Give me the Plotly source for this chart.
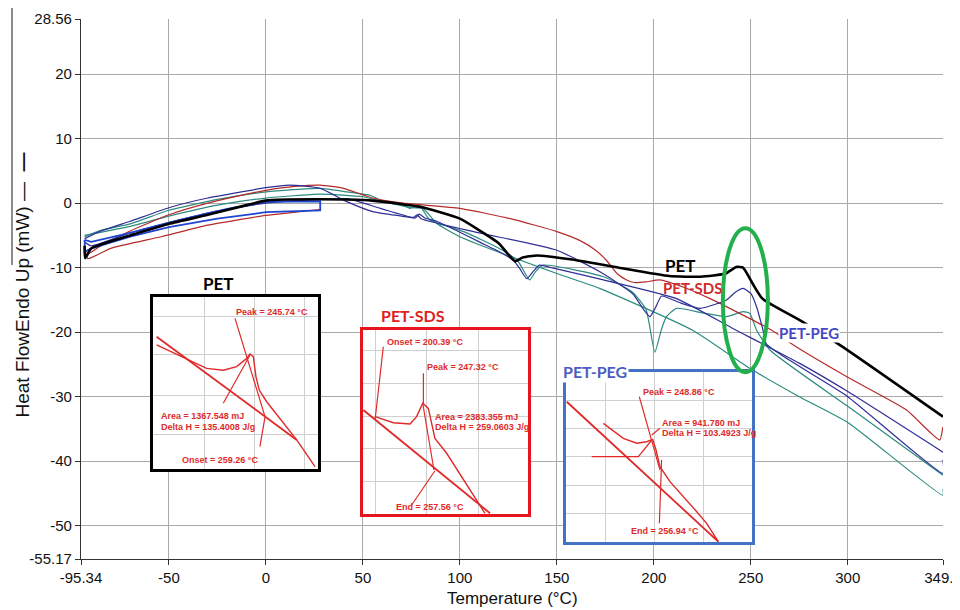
import plotly.graph_objects as go

# ---------------- axis ticks ----------------
X_TICKS = [-95.34, -50, 0, 50, 100, 150, 200, 250, 300, 349.1]
X_TICK_TEXT = ["-95.34", "-50", "0", "50", "100", "150", "200", "250", "300", "349.1"]
Y_TICKS = [-55.17, -50, -40, -30, -20, -10, 0, 10, 20, 28.56]
Y_TICK_TEXT = ["-55.17", "-50", "-40", "-30", "-20", "-10", "0", "10", "20", "28.56"]

# ---------------- main curves (Temperature °C, Heat flow mW) ----------------
PET_T = [-93.5, -93.2, -90, -80, -70, -50, -30, -10, 0, 25, 55, 80, 100, 110, 120, 126, 128.5, 132.5,
         140, 157, 182, 208, 224, 237, 242.5, 246, 251, 256, 275, 296, 349.1]
PET_Y = [-6.6, -8.5, -7.0, -5.9, -5.0, -3.2, -1.8, -0.3, 0.4, 0.6, 0.4, -0.6, -2.4, -4.2, -6.2, -8.3, -9.0, -8.4,
         -8.1, -8.7, -10.0, -11.3, -11.4, -10.9, -9.9, -10.0, -12.5, -14.8, -18.1, -22.0, -33.1]

SDS_T = [-93.3, -92.5, -85, -70, -50, -30, -10, 0, 15, 28, 40, 55, 71, 100, 126, 150, 162, 170, 176, 181,
         186, 190, 196, 203, 215, 229, 256, 265, 272, 300, 330, 347.4, 349]
SDS_Y = [-7.2, -8.0, -6.6, -4.3, -1.8, 0.0, 1.4, 2.0, 2.6, 2.8, 2.3, 0.8, 0.0, -0.8, -2.4, -4.4, -5.8, -7.3, -9.0, -10.9,
         -11.9, -12.3, -12.2, -11.9, -13.0, -14.8, -18.9, -20.5, -22.0, -27.0, -32.0, -36.7, -34.7]

SDS_LOW_T = [-93, -91.8, -80, -54, -30, 0, 28]
SDS_LOW_Y = [-7.6, -8.6, -7.0, -5.2, -3.4, -1.9, -1.0]

BLUE_LOOP_T = [-93.5, -93.3, -90, -70, -50, -25, 0, 15, 28, 28, 10, 0, -20, -50, -70, -90, -93.5]
BLUE_LOOP_Y = [-5.7, -7.5, -7.0, -5.2, -3.7, -2.4, -1.4, -1.2, -1.1, 0.3, 0.3, 0.2, -0.9, -3.0, -4.6, -6.0, -5.7]

NAVY_A_T = [-93.5, -85, -70, -50, -30, 0, 12, 28, 42, 55, 70, 77, 79, 82, 88, 100, 110, 122, 128, 131, 134.5,
            138, 141, 146, 174, 211.7, 240, 275, 300, 349.1]
NAVY_A_Y = [-5.5, -4.3, -2.8, -0.7, 0.8, 2.4, 2.8, 2.3, 0.2, -1.3, -2.0, -2.3, -1.7, -2.3, -2.8, -4.5, -6.0, -7.8,
            -9.0, -10.2, -11.7, -10.5, -9.6, -9.9, -11.9, -14.8, -19.3, -24.8, -29.2, -38.6]

NAVY_B_T = [-93.5, -90, -70, -50, -25, 0, 28, 42, 59, 76, 78, 80, 110, 150, 172, 189, 195, 198, 201, 204, 214,
            224, 237.5, 242, 246, 250, 253, 256.3, 258, 275, 300, 349.1, 349.1]
NAVY_B_Y = [-6.0, -6.6, -4.6, -3.0, -1.2, 0.0, 0.6, 0.7, -0.8, -2.2, -1.8, -2.4, -4.6, -7.3, -10.6, -14.0, -16.6,
            -17.6, -16.1, -14.4, -15.5, -16.3, -15.0, -13.8, -13.2, -14.0, -16.1, -19.7, -21.8, -25.3, -30.0,
            -41.9, -39.8]

TEAL_A_T = [-93.5, -85, -70, -50, -25, 0, 28, 42, 54, 59, 71, 74, 79, 84.5, 102, 122, 130, 136, 139, 143, 174,
            189, 196, 200.5, 204, 206.5, 211.7, 225, 237.5, 246, 249.5, 253, 260, 300, 349.1]
TEAL_A_Y = [-5.2, -4.2, -3.2, -1.1, 0.6, 1.75, 2.3, 1.75, 1.2, 0.5, -0.3, -0.8, -0.3, -2.6, -4.4, -7.3, -9.0,
            -11.9, -10.6, -9.6, -11.4, -13.8, -16.5, -23.1, -19.5, -17.6, -16.3, -17.0, -17.6, -16.8, -17.1,
            -19.7, -22.8, -31.5, -42.2]

TEAL_B_T = [-93.5, -70, -50, -25, 0, 28, 50, 64, 75, 81, 88, 100, 150, 172, 220, 249.5, 275, 300, 349.1, 349.1]
TEAL_B_Y = [-5.0, -3.6, -2.0, -0.3, 0.8, 1.4, 1.0, 0.0, -0.7, -0.8, -3.1, -5.2, -10.9, -13.2, -19.7, -25.6,
            -30.0, -34.0, -45.3, -44.3]

# ---------------- inset 1 (PET), local units 0..100 ----------------
PET_IN_GRID_U = [31.5, 61.8, 92.1]
PET_IN_GRID_V = [19.8, 43.0, 66.3, 88.4]
PET_IN_BASE_U = [2.2, 87.1]
PET_IN_BASE_V = [76.9, 16.9]
PET_IN_CURVE_U = [2.2, 22.4, 32.5, 42.6, 50.7, 56.8, 58.8, 60.8, 62.4, 64.4, 68.9, 87.1, 98.2]
PET_IN_CURVE_V = [72.1, 63.0, 58.5, 57.4, 59.5, 64.3, 66.9, 65.3, 53.7, 45.9, 39.1, 16.9, 1.4]
PET_IN_TAN_U = [49.7, 67.9, 64.8]
PET_IN_TAN_V = [87.6, 30.4, 13.0]
PET_IN_AREA_U = [42.6, 58.8]
PET_IN_AREA_V = [38.2, 66.3]

# ---------------- inset 2 (PET-SDS) ----------------
SDS_IN_GRID_U = [7.3, 38.6, 69.9]
SDS_IN_GRID_V = [17.6, 35.7, 52.9, 71.0, 89.1]
SDS_IN_BASE_U = [0.2, 77.0]
SDS_IN_BASE_V = [56.5, 0.4]
SDS_IN_CURVE_U = [7.3, 18.4, 28.5, 32.5, 36.2, 39.6, 41.6, 43.6, 50.7, 73.9]
SDS_IN_CURVE_V = [52.9, 49.6, 48.9, 52.9, 60.2, 57.4, 49.3, 41.1, 33.0, 0.4]
SDS_IN_ONSET_U = [12.3, 7.3]
SDS_IN_ONSET_V = [90.9, 51.1]
SDS_IN_PEAK_U = [36.6, 36.6]
SDS_IN_PEAK_V = [76.5, 60.2]
SDS_IN_TAN_U = [36.2, 43.0]
SDS_IN_TAN_V = [60.2, 23.9]
SDS_IN_END_U = [43.6, 29.5]
SDS_IN_END_V = [23.5, 4.9]

# ---------------- inset 3 (PET-PEG) ----------------
PEG_IN_GRID_U = [21.0, 47.8, 73.8]
PEG_IN_GRID_V = [16.9, 33.5, 50.2, 66.9, 83.5]
PEG_IN_BASE_U = [0.4, 81.9]
PEG_IN_BASE_V = [82.5, 0.2]
PEG_IN_CURVE_U = [20.1, 30.8, 38.0, 43.4, 46.6, 48.4, 50.5, 55.9, 70.3, 75.6, 81.9]
PEG_IN_CURVE_V = [69.8, 61.0, 58.1, 59.0, 60.4, 54.1, 44.3, 35.5, 17.8, 11.0, 0.2]
PEG_IN_TAN_U = [39.4, 50.5]
PEG_IN_TAN_V = [85.5, 42.4]
PEG_IN_END_U = [51.4, 50.2]
PEG_IN_END_V = [48.2, 11.0]
PEG_IN_ONSET_U = [13.8, 38.9, 46.1]
PEG_IN_ONSET_V = [50.2, 50.2, 60.0]
PEG_IN_AREA_U = [46.1, 50.5]
PEG_IN_AREA_V = [62.9, 66.9]

BLACK = "#000000"
RED = "#b52b2b"
NAVY = "#2e2f96"
BLUE = "#1f45d4"
TEAL = "#2b8b80"
INSET_RED = "#e02a2a"

fig = go.Figure()


def main_line(t, y, color, width, shape="spline"):
    fig.add_trace(go.Scatter(x=t, y=y, mode="lines",
                             line=dict(color=color, width=width, shape=shape, smoothing=0.5),
                             hoverinfo="skip", showlegend=False, xaxis="x", yaxis="y"))


main_line(TEAL_B_T, TEAL_B_Y, TEAL, 1.2)
main_line(TEAL_A_T, TEAL_A_Y, TEAL, 1.2)
main_line(SDS_LOW_T, SDS_LOW_Y, RED, 1.2)
main_line(SDS_T, SDS_Y, RED, 1.2)
main_line(NAVY_B_T, NAVY_B_Y, NAVY, 1.2)
main_line(NAVY_A_T, NAVY_A_Y, NAVY, 1.2)
main_line(BLUE_LOOP_T, BLUE_LOOP_Y, BLUE, 1.8, "linear")
main_line(PET_T, PET_Y, BLACK, 2.6)


def inset_line(u, v, ax, width=1.2):
    fig.add_trace(go.Scatter(x=u, y=v, mode="lines", line=dict(color=INSET_RED, width=width),
                             hoverinfo="skip", showlegend=False, xaxis="x" + ax, yaxis="y" + ax))


inset_line(PET_IN_BASE_U, PET_IN_BASE_V, "2", 1.8)
inset_line(PET_IN_CURVE_U, PET_IN_CURVE_V, "2", 1.4)
inset_line(PET_IN_TAN_U, PET_IN_TAN_V, "2")
inset_line(PET_IN_AREA_U, PET_IN_AREA_V, "2")

inset_line(SDS_IN_BASE_U, SDS_IN_BASE_V, "3", 1.8)
inset_line(SDS_IN_CURVE_U, SDS_IN_CURVE_V, "3", 1.4)
inset_line(SDS_IN_ONSET_U, SDS_IN_ONSET_V, "3")
inset_line(SDS_IN_PEAK_U, SDS_IN_PEAK_V, "3")
inset_line(SDS_IN_TAN_U, SDS_IN_TAN_V, "3")
inset_line(SDS_IN_END_U, SDS_IN_END_V, "3")

inset_line(PEG_IN_BASE_U, PEG_IN_BASE_V, "4", 1.8)
inset_line(PEG_IN_CURVE_U, PEG_IN_CURVE_V, "4", 1.4)
inset_line(PEG_IN_TAN_U, PEG_IN_TAN_V, "4")
inset_line(PEG_IN_END_U, PEG_IN_END_V, "4")
inset_line(PEG_IN_ONSET_U, PEG_IN_ONSET_V, "4")
inset_line(PEG_IN_AREA_U, PEG_IN_AREA_V, "4")

TICK_FONT = dict(family="Liberation Sans Narrow, Arial Narrow, Liberation Sans, Arial", size=15, color="#111111")
GRID = "#a9a9a9"


def inset_axes(domain_x, domain_y, grid_u, grid_v, border, n):
    common = dict(range=[0, 100], showticklabels=False, ticks="", showgrid=True, gridcolor="#cfcfcf",
                  gridwidth=1, zeroline=False, showline=True, linecolor=border, linewidth=3, mirror=True,
                  fixedrange=True, automargin=False)
    fig.layout["xaxis" + n] = dict(domain=domain_x, anchor="y" + n, tickvals=grid_u, **common)
    fig.layout["yaxis" + n] = dict(domain=domain_y, anchor="x" + n, tickvals=grid_v, **common)


# page body adds an 8px offset; figure is sized so the plot area lands on the reference pixels
OFF = 8
W, H = 960 - OFF, 610 - OFF
PL, PT, PR, PB = 81, 19, 943, 559          # plot area in screen pixels
L, T, R, B = PL - OFF, PT - OFF, W + OFF - PR, H + OFF - PB
PW, PH = PR - PL, PB - PT


def px(xp):
    return (xp - PL) / PW


def py(yp):
    return (PB - yp) / PH


fig.update_layout(
    width=W, height=H,
    margin=dict(l=L, r=R, t=T, b=B, autoexpand=False),
    paper_bgcolor="white", plot_bgcolor="white",
    showlegend=False,
    xaxis=dict(range=[-95.34, 349.1], tickvals=X_TICKS, ticktext=X_TICK_TEXT, showgrid=True,
               gridcolor=GRID, gridwidth=1.2, zeroline=False, showline=True, linecolor="#333333",
               linewidth=1.2, ticks="outside", ticklen=5, tickcolor="#333333", tickfont=TICK_FONT,
               domain=[0, 1], anchor="y", automargin=False, ticklabeloverflow="allow"),
    yaxis=dict(range=[-55.17, 28.56], tickvals=Y_TICKS, ticktext=Y_TICK_TEXT, showgrid=True,
               gridcolor=GRID, gridwidth=1.2, zeroline=False, showline=True, linecolor="#333333",
               linewidth=1.2, ticks="outside", ticklen=5, tickcolor="#333333",
               tickfont=dict(family="Liberation Sans, Arial", size=15, color="#111111"),
               domain=[0, 1], anchor="x", automargin=False, ticklabeloverflow="allow"),
)

inset_axes([px(153), px(318)], [py(469), py(297)], PET_IN_GRID_U, PET_IN_GRID_V, "#000000", "2")
inset_axes([px(363), px(528)], [py(514), py(330)], SDS_IN_GRID_U, SDS_IN_GRID_V, "#e8161c", "3")
inset_axes([px(566), px(752)], [py(542), py(372)], PEG_IN_GRID_U, PEG_IN_GRID_V, "#4472c4", "4")

ann = []
LBL = "Lato, Open Sans, Arial"
# main labels
ann.append(dict(x=214, y=-9.6, xref="x", yref="y", text="<b>PET</b>", showarrow=False,
                font=dict(family=LBL, size=17, color="#000000")))
ann.append(dict(x=219.8, y=-13.2, xref="x", yref="y", text="<b>PET-SDS</b>", showarrow=False,
                font=dict(family=LBL, size=15, color="#d42a2a")))
ann.append(dict(x=280, y=-20.2, xref="x", yref="y", text="<b>PET-PEG</b>", showarrow=False,
                bgcolor="white", borderpad=0,
                font=dict(family=LBL, size=15, color="#4646c4")))
# inset titles
ann.append(dict(x=px(201), y=py(283), xref="paper", yref="paper", text="<b>PET</b>", showarrow=False,
                font=dict(family=LBL, size=17, color="#000000")))
ann.append(dict(x=px(413), y=py(315), xref="paper", yref="paper", text="<b>PET-SDS</b>", showarrow=False,
                font=dict(family=LBL, size=16, color="#e02020")))
ann.append(dict(x=px(595), y=py(371), xref="paper", yref="paper", text="<b>PET-PEG</b>", showarrow=False,
                bgcolor="white", borderpad=1,
                font=dict(family=LBL, size=16, color="#4a5cc4")))

IF = dict(family="Liberation Sans, Arial", size=9, color=INSET_RED)


def itext(ax, u, v, txt, anchor="left"):
    ann.append(dict(x=u, y=v, xref="x" + ax, yref="y" + ax, text="<b>" + txt + "</b>", showarrow=False,
                    xanchor=anchor, yanchor="middle", font=IF))


itext("2", 71.9, 91.1, "Peak = 245.74 °C", "center")
itext("2", 3.8, 30.8, "Area = 1367.548 mJ")
itext("2", 3.8, 24.6, "Delta H = 135.4008 J/g")
itext("2", 40.6, 5.2, "Onset = 259.26 °C", "center")

itext("3", 13.3, 93.3, "Onset = 200.39 °C")
itext("3", 37.6, 80.1, "Peak = 247.32 °C")
itext("3", 42.6, 52.9, "Area = 2383.355 mJ")
itext("3", 42.6, 47.5, "Delta H = 259.0603 J/g")
itext("3", 40.6, 3.6, "End = 257.56 °C", "center")

itext("4", 40.3, 88.4, "Peak = 248.86 °C")
itext("4", 50.5, 70.2, "Area = 941.780 mJ")
itext("4", 50.5, 64.3, "Delta H = 103.4923 J/g")
itext("4", -1.0, 43.3, "Onset = 233.27 °C")
itext("4", 53.2, 6.7, "End = 256.94 °C", "center")

# axis titles
ann.append(dict(x=0.5, y=py(599), xref="paper", yref="paper", text="Temperature (°C)", showarrow=False,
                xanchor="center", yanchor="middle",
                font=dict(family="Liberation Sans Narrow, Arial Narrow, Liberation Sans, Arial", size=17,
                          color="#111111")))
ann.append(dict(x=px(22), y=py(420), xref="paper", yref="paper",
                text="Heat FlowEndo Up (mW) —  <b>—</b>", showarrow=False, textangle=-90,
                xanchor="center", yanchor="bottom",
                font=dict(family="Liberation Sans, Arial", size=19, color="#111111")))

fig.update_layout(annotations=ann)

fig.update_layout(shapes=[
    dict(type="circle", xref="x", yref="y", x0=235.6, x1=258.8, y0=-26.2, y1=-3.9,
         line=dict(color="#21b04b", width=4), layer="above"),
    dict(type="line", xref="paper", yref="paper", x0=px(12), x1=px(12), y0=py(265), y1=py(8),
         line=dict(color="#666666", width=1.5)),
])

fig.write_html("out.html")
